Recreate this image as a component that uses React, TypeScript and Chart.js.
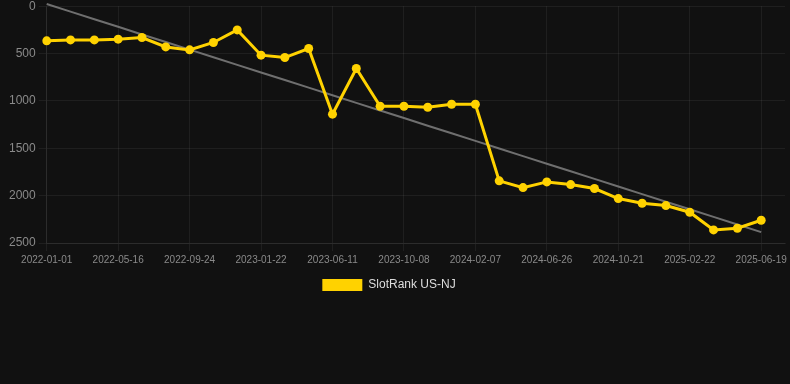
import { useEffect, useRef } from "react";
import { Chart, registerables } from "chart.js";

Chart.register(...registerables);

// Category labels (the final label is a spare slot past the last data point)
const dates = [
  "2022-01-01", "2022-02-15", "2022-03-31", "2022-05-16", "2022-06-29", "2022-08-11",
  "2022-09-24", "2022-11-03", "2022-12-13", "2023-01-22", "2023-03-08", "2023-04-26",
  "2023-06-11", "2023-07-21", "2023-08-29", "2023-10-08", "2023-11-18", "2023-12-28",
  "2024-02-07", "2024-03-24", "2024-05-10", "2024-06-26", "2024-08-04", "2024-09-12",
  "2024-10-21", "2024-12-02", "2025-01-12", "2025-02-22", "2025-04-01", "2025-05-10",
  "2025-06-19", "2025-07-28",
];

const ranks = [
  366, 356, 356, 348, 331, 430, 461, 383, 250, 517, 542, 447, 1140, 658, 1056, 1056,
  1067, 1035, 1035, 1844, 1915, 1855, 1883, 1925, 2031, 2080, 2105, 2175, 2362, 2344, 2260,
];

const yTicks = [0, 500, 1000, 1500, 2000, 2500];
const seriesLabel = "SlotRank US-NJ";

const YELLOW = "#ffd200";
const GRID = "rgba(255,255,255,0.06)";
const TICK = "#8a8a8a";

// least-squares trend line derived from the rank series
function trend(values: number[]): number[] {
  const n = values.length;
  const mx = (n - 1) / 2;
  const my = values.reduce((a, b) => a + b, 0) / n;
  let num = 0;
  let den = 0;
  values.forEach((v, i) => {
    num += (i - mx) * (v - my);
    den += (i - mx) * (i - mx);
  });
  const b = num / den;
  const a = my - b * mx;
  return values.map((_, i) => a + b * i);
}

const legendShift = {
  id: "legendShift",
  afterLayout(chart: any) {
    if (chart.legend) chart.legend.left -= 13;
  },
};

export default function App() {
  const ref = useRef<HTMLCanvasElement>(null);
  useEffect(() => {
    document.body.style.margin = "0";
    document.body.style.background = "#111111";
    document.body.style.overflow = "hidden";
    const chart = new Chart(ref.current!, {
      type: "line",
      data: {
        labels: dates,
        datasets: [
          {
            label: seriesLabel,
            data: ranks,
            borderColor: YELLOW,
            backgroundColor: YELLOW,
            borderWidth: 3,
            pointRadius: 4.5,
            pointBackgroundColor: YELLOW,
            pointBorderColor: YELLOW,
            pointBorderWidth: 0,
            tension: 0,
          },
          {
            label: "Trend",
            data: trend(ranks),
            borderColor: "rgba(128,128,128,0.85)",
            backgroundColor: "rgba(128,128,128,0.85)",
            borderWidth: 2,
            pointRadius: 0,
            tension: 0,
            clip: false as any,
          },
        ],
      },
      options: {
        animation: false,
        responsive: false,
        layout: { padding: { left: 6, right: 5, top: 0, bottom: 0 } },
        scales: {
          x: {
            grid: { color: GRID },
            border: { color: GRID },
            ticks: { color: TICK, font: { size: 10 }, maxRotation: 0, autoSkip: true },
          },
          y: {
            reverse: true,
            min: 0,
            max: 2500,
            afterBuildTicks: (s: any) => {
              s.ticks = yTicks.map((v) => ({ value: v }));
            },
            grid: { color: GRID },
            border: { color: GRID },
            ticks: { color: TICK, font: { size: 12 }, callback: (v: any) => String(v) },
          },
        },
        plugins: {
          legend: {
            position: "bottom",
            labels: {
              color: "#dddddd",
              boxWidth: 40,
              boxHeight: 12,
              font: { size: 12 },
              generateLabels: (c: any) =>
                Chart.defaults.plugins.legend.labels
                  .generateLabels(c)
                  .filter((l: any) => l.datasetIndex === 0)
                  .map((l: any) => ({ ...l, lineWidth: 0 })),
            },
          },
          tooltip: { enabled: false },
        },
      },
      plugins: [legendShift],
    });
    return () => chart.destroy();
  }, []);
  return (
    <canvas
      ref={ref}
      width={790}
      height={305}
      style={{ display: "block", marginTop: -4 }}
    />
  );
}
